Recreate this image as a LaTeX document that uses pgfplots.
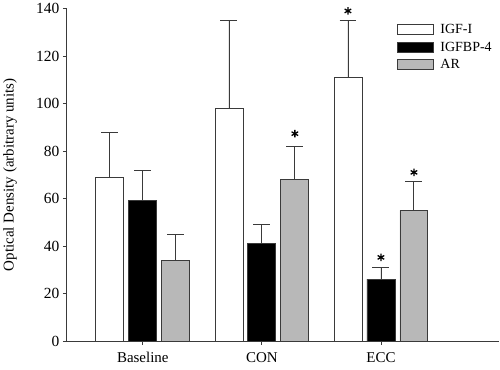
\documentclass[border=0pt]{standalone}
\usepackage{fontspec}
\setmainfont{Liberation Serif}
\usepackage{pgfplots}
\pgfplotsset{compat=1.18}
\definecolor{edge}{HTML}{3A3A3A}
\definecolor{argray}{HTML}{B8B8B8}
\pgfplotsset{
  mybar/.style={draw=edge, line width=0.8pt,
    error bars/y dir=plus, error bars/y explicit,
    error bars/error mark options={rotate=90, mark size=8.5pt, line width=0.8pt, edge},
    error bars/error bar style={edge, line width=0.8pt}},
  every axis legend/.append style={font=\fontsize{14}{16}\selectfont,
    nodes={font=\fontsize{14}{16}\selectfont}},
}
\begin{document}
\begin{tikzpicture}
\begin{axis}[
  ybar, bar width=28pt,
  scale only axis, width=433pt, height=333pt,
  xmin=0.3613, xmax=3.9916, ymin=0, ymax=140,
  axis x line*=bottom, axis y line*=left,
  xtick={1,2,3}, xticklabels={Baseline,CON,ECC},
  ytick={0,20,...,140},
  tick align=outside, major tick length=4pt,
  tick style={edge, line width=0.8pt},
  axis line style={edge, line width=0.8pt},
  xticklabel style={font=\fontsize{15}{17}\selectfont, yshift=-4pt},
  yticklabel style={font=\fontsize{15.5}{17}\selectfont},
  /pgf/number format/assume math mode=true,
  ylabel={Optical Density (arbitrary units)},
  ylabel style={at={(axis description cs:-0.131,0.5)}, anchor=center, font=\fontsize{15}{17}\selectfont},
  legend style={at={(rel axis cs:0.756,0.966)}, anchor=north west, draw=none, fill=none,
    row sep=3pt},
  legend cell align=left,
  legend image code/.code={\draw[#1] (0pt,-5pt) rectangle (36pt,5pt);},
]
\addplot[mybar, bar shift=-33pt, fill=white]
  coordinates {(1,69) +- (0,19) (2,98) +- (0,37) (3,111) +- (0,24)};
\addlegendentry{\hspace*{5pt}IGF-I}
\addplot[mybar, bar shift=0pt, fill=black]
  coordinates {(1,59) +- (0,13) (2,41) +- (0,8) (3,26) +- (0,5)};
\addlegendentry{\hspace*{5pt}IGFBP-4}
\addplot[mybar, bar shift=33pt, fill=argray]
  coordinates {(1,34) +- (0,11) (2,68) +- (0,14) (3,55) +- (0,12)};
\addlegendentry{\hspace*{5pt}AR}
\addplot[sharp plot, only marks, bar shift=0pt, mark=asterisk, mark size=3.8pt, mark options={line width=1.3pt, black}, forget plot]
  coordinates {(2.2773,87.3) (2.7227,139) (3,35.2) (3.2773,71)};
\end{axis}
\path (current axis.south west) ++(-66pt,-29pt) rectangle ++(500pt,368pt);
\end{tikzpicture}
\end{document}
